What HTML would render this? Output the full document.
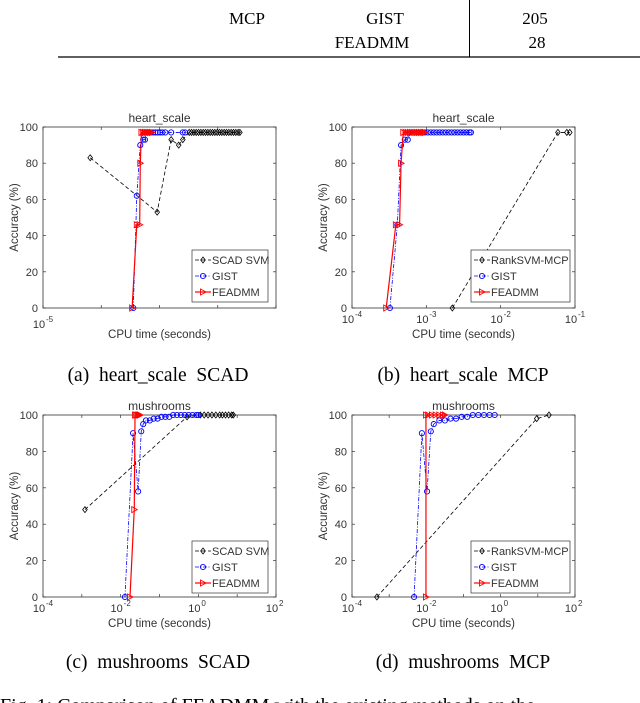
<!DOCTYPE html>
<html><head><meta charset="utf-8"><style>
body{margin:0;background:#fff;}
svg{display:block;}
.ser{font-family:"Liberation Serif",serif;fill:#000;}
.san{font-family:"Liberation Sans",sans-serif;fill:#333;}
</style></head><body>
<svg id="fig" width="640" height="703" viewBox="0 0 640 703" xmlns="http://www.w3.org/2000/svg">
<g>
<text class="ser" x="320" y="-2" font-size="17">RankSVM-MCP</text>
<text class="ser" x="535" y="-2" font-size="17">2</text>
<text class="ser" x="247" y="24" font-size="17" text-anchor="middle">MCP</text>
<text class="ser" x="385" y="24" font-size="17" text-anchor="middle">GIST</text>
<text class="ser" x="535" y="24" font-size="17" text-anchor="middle">205</text>
<text class="ser" x="372" y="48" font-size="17" text-anchor="middle">FEADMM</text>
<text class="ser" x="537" y="48" font-size="17" text-anchor="middle">28</text>
<line x1="469.5" y1="0" x2="469.5" y2="57" stroke="#000" stroke-width="1"/>
<line x1="58" y1="57" x2="640" y2="57" stroke="#000" stroke-width="1.2"/>
</g>
<text class="ser" x="158" y="381" font-size="19.5" text-anchor="middle" xml:space="preserve">(a)  heart_scale  SCAD</text>
<text class="ser" x="463" y="381" font-size="19.5" text-anchor="middle" xml:space="preserve">(b)  heart_scale  MCP</text>
<text class="ser" x="158" y="668" font-size="19.5" text-anchor="middle" xml:space="preserve">(c)  mushrooms  SCAD</text>
<text class="ser" x="463" y="668" font-size="19.5" text-anchor="middle" xml:space="preserve">(d)  mushrooms  MCP</text>
<text class="ser" x="0" y="712" font-size="20">Fig. 1: Comparison of FEADMM with the existing methods on the</text>
</svg>
<script>
// chart (a) heart_scale SCAD  (x = log10 seconds)
const aScadX=[-4.19,-3.04,-2.80,-2.67,-2.60,-2.49,-2.45,-2.41,-2.37,-2.33,-2.29,-2.25,-2.21,-2.17,-2.13,-2.09,-2.05,-2.01,-1.97,-1.93,-1.89,-1.85,-1.81,-1.77,-1.73,-1.69,-1.65,-1.62];
const aScadY=[83,53,93,90,93,97,97,97,97,97,97,97,97,97,97,97,97,97,97,97,97,97,97,97,97,97,97,97];
const aGistX=[-3.45,-3.39,-3.33,-3.28,-3.25,-3.23,-3.19,-3.15,-3.11,-3.07,-3.03,-2.99,-2.95,-2.90,-2.80,-2.60,-2.56];
const aGistY=[0,62,90,93,93,97,97,97,97,97,97,97,97,97,97,97,97];
const aFeaX=[-3.47,-3.39,-3.34,-3.33,-3.31,-3.28,-3.25,-3.22,-3.19,-3.16,-3.13];
const aFeaY=[0,46,46,80,97,97,97,97,97,97,97];
// chart (b) heart_scale MCP
const bRankX=[-2.65,-1.23,-1.11,-1.07];
const bRankY=[0,97,97,97];
const bGistX=[-3.49,-3.39,-3.34,-3.29,-3.25,-3.22,-3.18,-3.14,-3.10,-3.06,-3.02,-2.98,-2.94,-2.90,-2.86,-2.82,-2.78,-2.74,-2.70,-2.66,-2.62,-2.58,-2.54,-2.50,-2.46,-2.42,-2.40];
const bGistY=[0,46,90,93,93,97,97,97,97,97,97,97,97,97,97,97,97,97,97,97,97,97,97,97,97,97,97];
const bFeaX=[-3.54,-3.41,-3.36,-3.34,-3.31,-3.28,-3.25,-3.22,-3.19,-3.16,-3.13,-3.10,-3.07,-3.04,-3.02];
const bFeaY=[0,46,46,80,97,97,97,97,97,97,97,97,97,97,97];
// chart (c) mushrooms SCAD
const cScadX=[-2.92,-0.29,0.05,0.15,0.25,0.35,0.45,0.55,0.62,0.70,0.78,0.86,0.90];
const cScadY=[48,99,100,100,100,100,100,100,100,100,100,100,100];
const cGistX=[-1.89,-1.68,-1.55,-1.47,-1.42,-1.35,-1.25,-1.15,-1.05,-0.95,-0.85,-0.75,-0.65,-0.55,-0.45,-0.35,-0.25,-0.15,-0.05,0.0];
const cGistY=[0,90,58,91,95,97,97,98,98,99,99,99,100,100,100,100,100,100,100,100];
const cFeaX=[-1.76,-1.65,-1.63,-1.60,-1.56,-1.53,-1.50];
const cFeaY=[0,48,100,100,100,100,100];
// chart (d) mushrooms MCP
const dRankX=[-3.33,0.97,1.30];
const dRankY=[0,98,100];
const dGistX=[-2.33,-2.12,-1.98,-1.88,-1.80,-1.65,-1.50,-1.35,-1.20,-1.05,-0.90,-0.75,-0.60,-0.45,-0.30,-0.16];
const dGistY=[0,90,58,91,95,97,97,98,98,99,99,100,100,100,100,100];
const dFeaX=[-2.01,-2.01,-1.95,-1.85,-1.75,-1.65,-1.55,-1.50];
const dFeaY=[0,100,100,100,100,100,100,100];
const yTicks=[0,20,40,60,80,100];

const NS='http://www.w3.org/2000/svg';
const svg=document.getElementById('fig');
function mk(tag,attrs,parent){const e=document.createElementNS(NS,tag);for(const k in attrs)e.setAttribute(k,attrs[k]);(parent||svg).appendChild(e);return e;}

function chart(cfg){
  const g=mk('g',{});
  
  
  const X=v=>cfg.x0+(v-cfg.xmin)/(cfg.xmax-cfg.xmin)*(cfg.x1-cfg.x0);
  const Y=v=>cfg.y1-(v/100)*(cfg.y1-cfg.y0);
  const frame=mk('rect',{x:cfg.x0,y:cfg.y0,width:cfg.x1-cfg.x0,height:cfg.y1-cfg.y0,fill:'#fff',stroke:'#333','stroke-width':0.8},g);
  
  
  yTicks.forEach(t=>{
    mk('line',{x1:cfg.x0,x2:cfg.x0+3,y1:Y(t),y2:Y(t),stroke:'#333','stroke-width':0.7},g);
    mk('line',{x1:cfg.x1,x2:cfg.x1-3,y1:Y(t),y2:Y(t),stroke:'#333','stroke-width':0.7},g);
    const tl=mk('text',{x:cfg.x0-5,y:Y(t)+4,'font-size':11,'text-anchor':'end',class:'san'},g);
    tl.textContent=t;
    
    
  });
  for(let d=Math.ceil(cfg.xmin);d<=cfg.xmax;d++){
    mk('line',{x1:X(d),x2:X(d),y1:cfg.y1,y2:cfg.y1-3,stroke:'#333','stroke-width':0.7},g);
    mk('line',{x1:X(d),x2:X(d),y1:cfg.y0,y2:cfg.y0+3,stroke:'#333','stroke-width':0.7},g);
  }
  cfg.xLabels.forEach(d=>{
    const tl=mk('text',{x:X(d)-4,y:cfg.y1+cfg.labOff,'font-size':11,'text-anchor':'middle',class:'san'},g);
    tl.textContent='10';
    
    
    const sp=mk('text',{x:X(d)+3,y:cfg.y1+cfg.labOff-6,'font-size':8,class:'san'},g);
    sp.textContent=d;
    
    
  });
  const cx=(cfg.x0+cfg.x1)/2;
  const tt=mk('text',{x:cx,y:cfg.y0-5,'font-size':12,'text-anchor':'middle',class:'san'},g);
  tt.textContent=cfg.title;
  
  
  const xt=mk('text',{x:cx,y:cfg.y1+30,'font-size':11.5,'text-anchor':'middle',class:'san'},g);
  xt.textContent='CPU time (seconds)';
  
  
  const ym=(cfg.y0+cfg.y1)/2;
  const yt=mk('text',{x:cfg.x0-25,y:ym,'font-size':11.5,'text-anchor':'middle',class:'san',transform:`rotate(-90 ${cfg.x0-25} ${ym})`},g);
  yt.textContent='Accuracy (%)';
  
  

  function marker(type,x,y,color,parent){
    if(type==='d') return mk('path',{d:`M${x} ${y-3}L${x+2.3} ${y}L${x} ${y+3}L${x-2.3} ${y}Z`,fill:'none',stroke:color,'stroke-width':0.8},parent);
    if(type==='o') return mk('circle',{cx:x,cy:y,r:2.6,fill:'none',stroke:color,'stroke-width':0.9},parent);
    return mk('path',{d:`M${x-2.5} ${y-3}L${x+3} ${y}L${x-2.5} ${y+3}Z`,fill:'none',stroke:color,'stroke-width':0.9},parent);
  }
  cfg.series.forEach(s=>{
    const sg=mk('g',{},g);
    
    
    const pts=s.xs.map((v,i)=>X(v)+','+Y(s.ys[i])).join(' ');
    mk('polyline',{points:pts,fill:'none',stroke:s.color,'stroke-width':s.w,'stroke-dasharray':s.dash},sg);
    s.xs.forEach((v,i)=>{
      const m=marker(s.m,X(v),Y(s.ys[i]),s.color,sg);
      
      
    });
  });
  const L=cfg.legend;
  const lg=mk('g',{},g);
  
  
  mk('rect',{x:L.x,y:L.y,width:L.w,height:52,fill:'#fff',stroke:'#333','stroke-width':0.7},lg);
  cfg.series.forEach((s,i)=>{
    const ly=L.y+10+i*16;
    const e=mk('g',{},lg);
    
    
    mk('line',{x1:L.x+3,x2:L.x+19,y1:ly,y2:ly,stroke:s.color,'stroke-width':s.w,'stroke-dasharray':s.dash},e);
    marker(s.m,L.x+11,ly,s.color,e);
    const t=mk('text',{x:L.x+20,y:ly+4,'font-size':11,class:'san'},e);
    t.setAttribute('fill','#222');
    t.textContent=s.label;
  });
}
const S=(name,label,xs,ys,color,m,dash,w)=>({name,label,xs,ys,color,m,dash,w});
chart({name:'chart-a-heart-scale-scad',title:'heart_scale',x0:43,x1:276,y0:127,y1:308,xmin:-5,xmax:-1,xLabels:[-5],labOff:20,
  legend:{x:192,y:250,w:76},
  series:[S('series-scad-svm','SCAD SVM',aScadX,aScadY,'#000','d','4 2.5',0.8),S('series-gist','GIST',aGistX,aGistY,'#00f','o','4 1.5 1 1.5',0.8),S('series-feadmm','FEADMM',aFeaX,aFeaY,'#f00','t','',1.2)]});
chart({name:'chart-b-heart-scale-mcp',title:'heart_scale',x0:352,x1:575,y0:127,y1:308,xmin:-4,xmax:-1,xLabels:[-4,-3,-2,-1],labOff:15,
  legend:{x:471,y:250,w:99},
  series:[S('series-ranksvm-mcp','RankSVM-MCP',bRankX,bRankY,'#000','d','4 2.5',0.8),S('series-gist','GIST',bGistX,bGistY,'#00f','o','4 1.5 1 1.5',0.8),S('series-feadmm','FEADMM',bFeaX,bFeaY,'#f00','t','',1.2)]});
chart({name:'chart-c-mushrooms-scad',title:'mushrooms',x0:43,x1:276,y0:415,y1:597,xmin:-4,xmax:2,xLabels:[-4,-2,0,2],labOff:15,
  legend:{x:192,y:541,w:76},
  series:[S('series-scad-svm','SCAD SVM',cScadX,cScadY,'#000','d','4 2.5',0.8),S('series-gist','GIST',cGistX,cGistY,'#00f','o','4 1.5 1 1.5',0.8),S('series-feadmm','FEADMM',cFeaX,cFeaY,'#f00','t','',1.2)]});
chart({name:'chart-d-mushrooms-mcp',title:'mushrooms',x0:352,x1:575,y0:415,y1:597,xmin:-4,xmax:2,xLabels:[-4,-2,0,2],labOff:15,
  legend:{x:471,y:541,w:99},
  series:[S('series-ranksvm-mcp','RankSVM-MCP',dRankX,dRankY,'#000','d','4 2.5',0.8),S('series-gist','GIST',dGistX,dGistY,'#00f','o','4 1.5 1 1.5',0.8),S('series-feadmm','FEADMM',dFeaX,dFeaY,'#f00','t','',1.2)]});
</script>
</body></html>
